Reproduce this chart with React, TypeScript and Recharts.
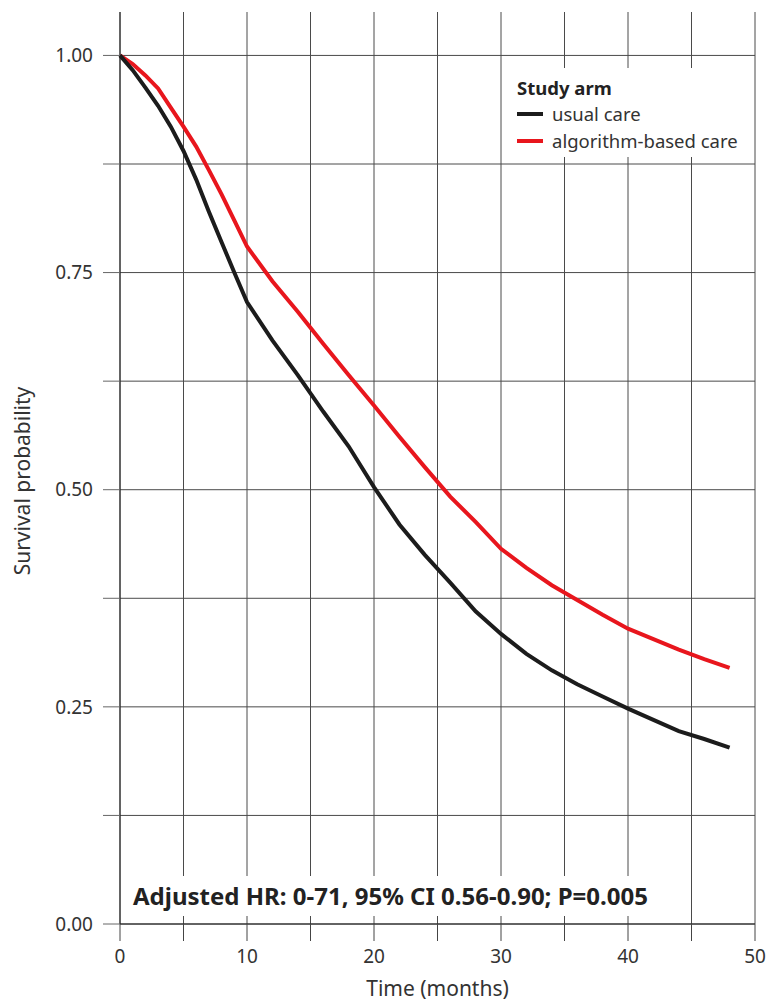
import React from 'react';
import {
  LineChart,
  Line,
  XAxis,
  YAxis,
  CartesianGrid,
} from 'recharts';

// months since enrolment (shared by both arms)
const months = [0, 1, 2, 3, 4, 5, 6, 7, 8, 9, 10, 12, 14, 16, 18, 20, 22, 24, 26, 28, 30, 32, 34, 36, 38, 40, 42, 44, 46, 48];

const usualCare = [
  1.0, 0.983, 0.963, 0.942, 0.918, 0.89, 0.857, 0.82, 0.785, 0.75, 0.716, 0.672, 0.632, 0.59, 0.55,
  0.503, 0.46, 0.425, 0.393, 0.36, 0.334, 0.311, 0.292, 0.276, 0.262, 0.248, 0.235, 0.222, 0.213, 0.203,
];

const algorithmCare = [
  1.0, 0.99, 0.977, 0.962, 0.94, 0.918, 0.895, 0.868, 0.84, 0.81, 0.78, 0.74, 0.705, 0.668, 0.632,
  0.597, 0.561, 0.526, 0.492, 0.463, 0.432, 0.41, 0.39, 0.373, 0.356, 0.34, 0.328, 0.316, 0.305, 0.295,
];

const xTicks = [0, 5, 10, 15, 20, 25, 30, 35, 40, 45, 50];
const yTicks = [0, 0.125, 0.25, 0.375, 0.5, 0.625, 0.75, 0.875, 1];

const legendItems = [
  { label: 'usual care', color: '#1c1c1c' },
  { label: 'algorithm-based care', color: '#e8161d' },
];

const annotation = 'Adjusted HR: 0-71, 95% CI 0.56-0.90; P=0.005';

const FONT = '"Noto Sans", sans-serif';

const chartData = months.map((m, i) => ({
  month: m,
  usual: usualCare[i],
  algo: algorithmCare[i],
}));

// legend sits inside the plot, top-right, on a white patch
const StudyArmLegend = () => (
  <div
    style={{
      position: 'absolute',
      left: 507,
      top: 68,
      width: 247,
      height: 89,
      background: '#fff',
      boxSizing: 'border-box',
      padding: '8px 0 0 10px',
      fontFamily: FONT,
      fontSize: 18.5,
      color: '#333',
      lineHeight: '27px',
    }}
  >
    <div style={{ fontWeight: 700, color: '#222', lineHeight: '24px' }}>Study arm</div>
    {legendItems.map((it) => (
      <div key={it.label} style={{ display: 'flex', alignItems: 'center', whiteSpace: 'nowrap' }}>
        <span
          style={{
            display: 'inline-block',
            width: 26,
            height: 4,
            background: it.color,
            marginRight: 9,
          }}
        />
        {it.label}
      </div>
    ))}
  </div>
);

export default function App() {
  return (
    <div style={{ position: 'absolute', left: 0, top: 0, width: 777, height: 1005, background: '#fff' }}>
      <LineChart
        width={777}
        height={1005}
        data={chartData}
        margin={{ top: 12, right: 22, bottom: 0, left: 0 }}
      >
        <CartesianGrid
          stroke="#4a4a4a"
          strokeWidth={1}
          verticalValues={xTicks}
          horizontalValues={yTicks}
        />
        <XAxis
          type="number"
          dataKey="month"
          domain={[0, 50]}
          ticks={xTicks}
          tickFormatter={(v: number) => (v % 10 === 0 ? String(v) : '')}
          interval={0}
          height={81}
          tickSize={17}
          tickMargin={9}
          stroke="#222"
          tick={{ fill: '#333', fontSize: 19, fontFamily: FONT }}
          tickLine={{ stroke: '#444' }}
          label={{
            value: 'Time (months)',
            position: 'insideBottom',
            offset: 9,
            fill: '#333',
            fontSize: 21,
            fontFamily: FONT,
          }}
        />
        <YAxis
          type="number"
          domain={[0, 1.05]}
          ticks={yTicks}
          tickFormatter={(v: number) => (Math.abs((v * 4) % 1) < 1e-9 ? v.toFixed(2) : '')}
          interval={0}
          width={120}
          tickSize={17}
          tickMargin={10}
          allowDataOverflow
          stroke="#222"
          tick={{ fill: '#333', fontSize: 19, fontFamily: FONT }}
          tickLine={{ stroke: '#666' }}
          label={{
            value: 'Survival probability',
            angle: -90,
            position: 'center',
            dx: -37,
            dy: 13,
            fill: '#333',
            fontSize: 21,
            fontFamily: FONT,
          }}
        />
        <Line
          type="linear"
          dataKey="algo"
          stroke="#e8161d"
          strokeWidth={4}
          dot={false}
          isAnimationActive={false}
        />
        <Line
          type="linear"
          dataKey="usual"
          stroke="#1c1c1c"
          strokeWidth={4}
          dot={false}
          isAnimationActive={false}
        />
      </LineChart>
      <StudyArmLegend />
      <div
        style={{
          position: 'absolute',
          left: 126,
          top: 876,
          width: 530,
          height: 40,
          background: '#fff',
          fontFamily: FONT,
          fontWeight: 700,
          fontSize: 24,
          color: '#222',
          lineHeight: '40px',
          paddingLeft: 7,
          boxSizing: 'border-box',
          whiteSpace: 'nowrap',
        }}
      >
        {annotation}
      </div>
    </div>
  );
}
